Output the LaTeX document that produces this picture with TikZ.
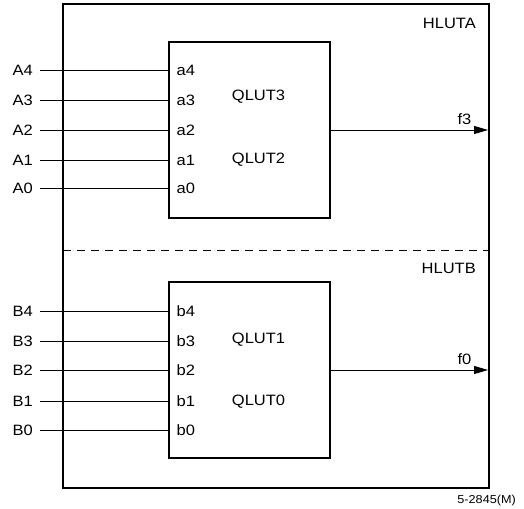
\documentclass[tikz,border=0pt]{standalone}
\usepackage{fontspec}
\setmainfont{Liberation Sans}[FakeStretch=1.1]
\usetikzlibrary{arrows.meta}
\begin{document}
\begin{tikzpicture}[x=1pt,y=-1pt,
  thickbox/.style={draw,line width=2pt},
  wire/.style={line width=0.9pt},
  lbl/.style={font=\fontsize{15}{17}\selectfont,inner sep=0pt},
  pin/.style={font=\fontsize{15}{17}\selectfont,inner sep=0pt,anchor=west},
  outarrow/.style={line width=0.9pt,-{Triangle[length=14pt,width=8pt]}}]
\useasboundingbox (0,0) rectangle (524,508);
% outer box
\draw[thickbox] (63,4) rectangle (489,488);
\node[lbl,anchor=east] (hluta) at (476,23) {HLUTA};
\node[lbl,anchor=east] (hlutb) at (476,268) {HLUTB};
\draw[line width=0.9pt,dash pattern=on 8pt off 6pt] (63,250) -- (489,250);
% inner boxes
\node[thickbox,minimum width=161pt,minimum height=176pt,inner sep=0pt] (qa) at (249.5,130) {};
\node[thickbox,minimum width=161pt,minimum height=176pt,inner sep=0pt] (qb) at (249.5,370) {};
\node[lbl] (q3) at (258.5,97) {QLUT3};
\node[lbl] (q2) at (258.5,160) {QLUT2};
\node[lbl] (q1) at (258.5,340) {QLUT1};
\node[lbl] (q0) at (258.5,402) {QLUT0};
% inputs A
\foreach \i/\y in {4/70,3/100,2/130,1/160,0/188}{
  \node[lbl,anchor=east] (A\i) at (33,\y) {A\i};
  \node[pin] (a\i) at (176.5,\y) {a\i};
  \coordinate (ia\i) at (169,\y);
  \draw[wire] ([xshift=7pt]A\i.east) -- (ia\i);
}
\foreach \i/\y in {4/311,3/341,2/370,1/401,0/430}{
  \node[lbl,anchor=east] (B\i) at (33,\y) {B\i};
  \node[pin] (b\i) at (176.5,\y) {b\i};
  \coordinate (ib\i) at (169,\y);
  \draw[wire] ([xshift=7pt]B\i.east) -- (ib\i);
}
% outputs
\coordinate (oa) at (488,130);
\coordinate (ob) at (488,370);
\draw[outarrow] (qa.east |- oa) -- (oa);
\draw[outarrow] (qb.east |- ob) -- (ob);
\node[lbl] (f3) at (464.5,119) {f3};
\node[lbl] (f0) at (464.5,359) {f0};
\node[font=\fontsize{11.5}{13}\selectfont,inner sep=0pt,anchor=east] (ref) at (516,501) {5-2845(M)};
\end{tikzpicture}
\end{document}
